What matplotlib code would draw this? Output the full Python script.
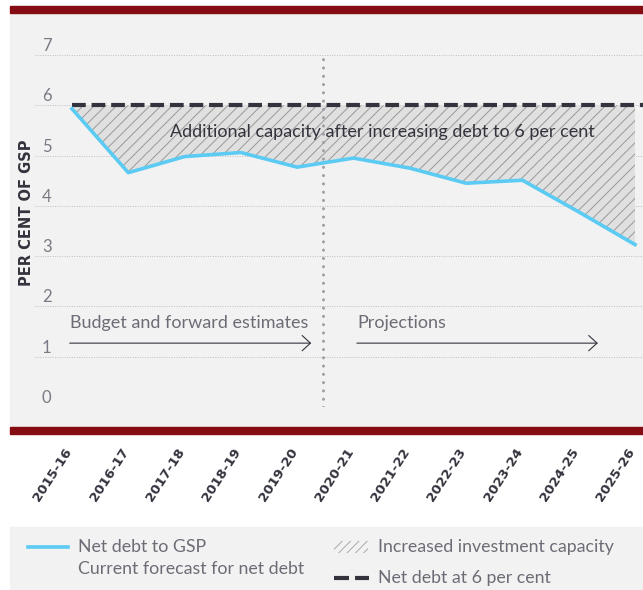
import numpy as np
import matplotlib.pyplot as plt
from matplotlib.patches import Rectangle
from matplotlib.transforms import ScaledTranslation

plt.rcParams['font.family'] = ['Lato', 'DejaVu Sans']
plt.rcParams['hatch.linewidth'] = 0.7

# Data
years = ['2015-16', '2016-17', '2017-18', '2018-19', '2019-20', '2020-21',
         '2021-22', '2022-23', '2023-24', '2024-25', '2025-26']
net_debt = [5.93, 4.66, 4.98, 5.06, 4.77, 4.95, 4.75, 4.45, 4.51, 3.88, 3.23]
debt_cap = 6
y_ticks = [0, 1, 2, 3, 4, 5, 6, 7]
split_at = 4.45  # boundary between budget estimates and projections

# Colours
red = '#860c13'
panel = '#f2f2f2'
blue = '#5ccbf3'
dark = '#33333d'
grey_txt = '#6c6c76'

W, H = 643, 590
fig = plt.figure(figsize=(W / 100, H / 100), dpi=100)

# background panels and red bars (figure coords)
fig.patches.append(Rectangle((10 / W, 1 - 427 / H), 633 / W, 414 / H,
                             transform=fig.transFigure, color=panel, zorder=-2))
fig.patches.append(Rectangle((10 / W, 1 - 13 / H), 633 / W, 7 / H,
                             transform=fig.transFigure, color=red, zorder=-1))
fig.patches.append(Rectangle((10 / W, 1 - 434 / H), 633 / W, 7 / H,
                             transform=fig.transFigure, color=red, zorder=-1))
fig.patches.append(Rectangle((10 / W, 0), 633 / W, 63 / H,
                             transform=fig.transFigure, color=panel, zorder=-2))

ax = fig.add_axes([35 / W, 1 - 407 / H, 608 / W, 352 / H])
ax.set_zorder(2)
ax.set_facecolor('none')
x = np.arange(len(years))
ax.set_xlim(-0.657, 10.142)
ax.set_ylim(0, 7)

# grid
ax.set_yticks(y_ticks)
ax.yaxis.grid(True, color='#bdbdc2', lw=0.7, linestyle=(0, (1, 1.5)))
for s in ax.spines.values():
    s.set_visible(False)
ax.tick_params(axis='y', length=0, pad=0, labelsize=12, labelcolor='#7a7a84')
for lab in ax.get_yticklabels():
    lab.set_horizontalalignment('left')
    lab.set_verticalalignment('bottom')
    lab.set_transform(lab.get_transform() + ScaledTranslation(0.07, 0.01, fig.dpi_scale_trans))

ax.set_xticks(x, years, rotation=57, ha='right', rotation_mode='anchor',
              fontweight='bold', fontsize=9.5, color=dark, family='DejaVu Sans')
ax.tick_params(axis='x', length=0, pad=28)
for lab in ax.get_xticklabels():
    lab.set_transform(lab.get_transform() + ScaledTranslation(-0.08, 0, fig.dpi_scale_trans))

# hatched capacity area
ax.fill_between(x, net_debt, debt_cap, facecolor='#e0e0e0', edgecolor='#999999',
                hatch='///', linewidth=0, zorder=2)

# 6 per cent line
ax.hlines(debt_cap, x[0], ax.get_xlim()[1], colors=dark, lw=3,
          linestyles=(0, (3.3, 1.4)), zorder=4)

# split line
ax.axvline(split_at, color='#9e9ea6', lw=2.2, linestyle=(0, (0.01, 2.7)),
           dash_capstyle='round', zorder=3)

# net debt line
ax.plot(x, net_debt, color=blue, lw=2.6, solid_joinstyle='round', zorder=5)

ax.text(5.52, 5.47, 'Additional capacity after increasing debt to 6 per cent',
        ha='center', va='center', fontsize=13, color=dark, zorder=6)

# period annotations
arrow = dict(arrowstyle='->, head_length=0.6, head_width=0.55', lw=0.8,
             color=dark, shrinkA=0, shrinkB=0, mutation_scale=10)
ax.text(-0.04, 1.67, 'Budget and forward estimates', ha='left', va='center',
        fontsize=13, color=grey_txt)
ax.annotate('', xy=(4.25, 1.27), xytext=(-0.04, 1.27), arrowprops=arrow)
ax.text(5.06, 1.67, 'Projections', ha='left', va='center',
        fontsize=13, color=grey_txt)
ax.annotate('', xy=(9.34, 1.27), xytext=(5.06, 1.27), arrowprops=arrow)

fig.text(27 / W, 1 - 213 / H, 'PER CENT OF GSP', rotation=90, ha='center',
         va='center', fontsize=10.5, fontweight='bold', color=dark,
         family='DejaVu Sans')

# legend
lax = fig.add_axes([10 / W, 0, 633 / W, 63 / H])
lax.set_zorder(2)
lax.set_xlim(10, 643)
lax.set_ylim(590, 527)
lax.axis('off')
lax.plot([28, 68], [547, 547], color=blue, lw=2.6)
lax.text(78, 547, 'Net debt to GSP', va='center', fontsize=12.8, color=grey_txt)
lax.text(78, 569, 'Current forecast for net debt', va='center', fontsize=12.8, color=grey_txt)
lax.add_patch(Rectangle((334, 541), 34, 12, facecolor='none', edgecolor='#a8a8a8',
                        hatch='////', lw=0))
lax.text(378, 547, 'Increased investment capacity', va='center', fontsize=12.8, color=grey_txt)
lax.plot([334, 369], [578, 578], color=dark, lw=3, linestyle=(0, (3.6, 1.45)))
lax.text(378, 578, 'Net debt at 6 per cent', va='center', fontsize=12.8, color=grey_txt)

fig.savefig('out.png', dpi=100, facecolor='white')
